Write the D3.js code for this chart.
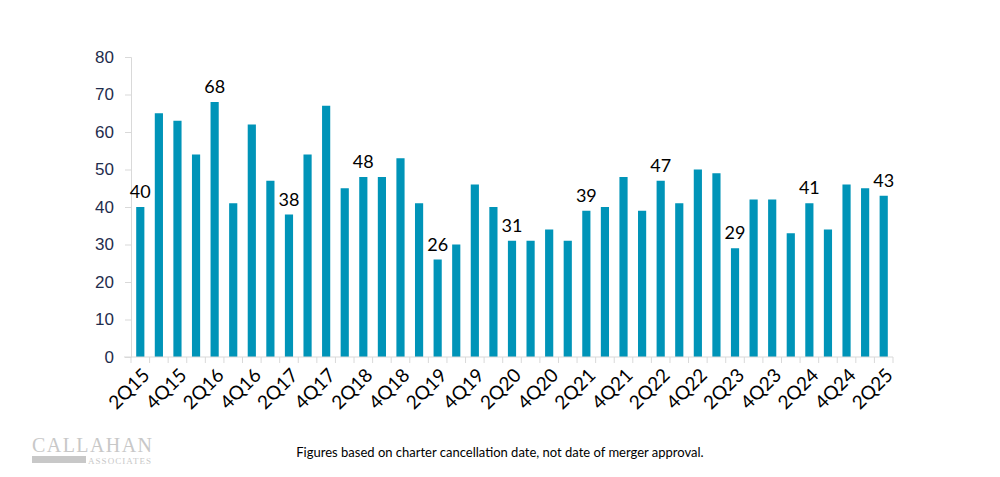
<!DOCTYPE html>
<html>
<head>
<meta charset="utf-8">
<script src="https://cdn.jsdelivr.net/npm/d3@7"></script>
<style>
  body { margin: 0; background: #fff; }
  svg { display: block; font-family: Lato, "Open Sans", sans-serif; }
</style>
</head>
<body>
<div id="chart"></div>
<script>
const quarters = [
  "2Q15","3Q15","4Q15","1Q16","2Q16","3Q16","4Q16","1Q17","2Q17","3Q17","4Q17",
  "1Q18","2Q18","3Q18","4Q18","1Q19","2Q19","3Q19","4Q19","1Q20","2Q20","3Q20",
  "4Q20","1Q21","2Q21","3Q21","4Q21","1Q22","2Q22","3Q22","4Q22","1Q23","2Q23",
  "3Q23","4Q23","1Q24","2Q24","3Q24","4Q24","1Q25","2Q25"
];
const mergers = [
  40, 65, 63, 54, 68, 41, 62, 47, 38, 54, 67,
  45, 48, 48, 53, 41, 26, 30, 46, 40, 31, 31,
  34, 31, 39, 40, 48, 39, 47, 41, 50, 49, 29,
  42, 42, 33, 41, 34, 46, 45, 43
];
const labelled = ["2Q15","2Q16","2Q17","2Q18","2Q19","2Q20","2Q21","2Q22","2Q23","2Q24","2Q25"];
const yTicks = [0, 10, 20, 30, 40, 50, 60, 70, 80];
const footnote = "Figures based on charter cancellation date, not date of merger approval.";

const width = 1000, height = 477;
const margin = { top: 57, right: 107, bottom: 120, left: 131 };
const data = quarters.map((q, i) => ({ name: q, value: mergers[i] }));

const svg = d3.select("#chart").append("svg")
  .attr("width", width)
  .attr("height", height);

const x = d3.scaleBand()
  .domain(quarters)
  .range([margin.left, width - margin.right])
  .paddingInner(0.56)
  .paddingOuter(0.28);

const y = d3.scaleLinear()
  .domain([0, 80])
  .range([height - margin.bottom, margin.top]);

// y axis
const yAxis = svg.append("g")
  .attr("transform", `translate(${margin.left},0)`)
  .call(d3.axisLeft(y).tickValues(yTicks).tickSize(6).tickPadding(11));
yAxis.select(".domain").attr("stroke", "#d9d9d9");
yAxis.selectAll(".tick line").attr("stroke", "#d9d9d9");
yAxis.selectAll(".tick text")
  .attr("fill", "#1f2d4d")
  .style("font-size", "17px");

// bars
svg.append("g").selectAll("rect")
  .data(data)
  .join("rect")
  .attr("x", d => x(d.name))
  .attr("y", d => y(d.value))
  .attr("width", x.bandwidth())
  .attr("height", d => y(0) - y(d.value))
  .attr("fill", "#0094b8");

// x axis: ticks at category boundaries
const xg = svg.append("g")
  .attr("transform", `translate(0,${y(0)})`);
const bounds = d3.range(quarters.length + 1).map(i => margin.left + i * (width - margin.left - margin.right) / quarters.length);
xg.append("line")
  .attr("x1", margin.left - 7).attr("x2", width - margin.right)
  .attr("stroke", "#d9d9d9");
xg.selectAll("line.tk")
  .data(bounds)
  .join("line")
  .attr("class", "tk")
  .attr("x1", d => d).attr("x2", d => d)
  .attr("y1", 0).attr("y2", 6)
  .attr("stroke", "#d9d9d9");
xg.selectAll("text")
  .data(quarters.filter((q, i) => i % 2 === 0))
  .join("text")
  .attr("transform", d => `translate(${x(d) + x.bandwidth() / 2 + 1},${10}) rotate(-45)`)
  .attr("text-anchor", "end")
  .attr("dy", "0.7em")
  .attr("fill", "#000")
  .style("font-size", "19px")
  .text(d => d);

// data labels
svg.append("g").selectAll("text")
  .data(data.filter(d => labelled.includes(d.name)))
  .join("text")
  .attr("x", d => x(d.name) + x.bandwidth() / 2)
  .attr("y", d => y(d.value) - 9)
  .attr("text-anchor", "middle")
  .attr("fill", "#000")
  .style("font-size", "18px")
  .text(d => d.value);

// footnote
svg.append("text")
  .attr("x", 500).attr("y", 457)
  .attr("text-anchor", "middle")
  .attr("fill", "#000")
  .style("font-size", "13px")
  .text(footnote);

// logo
const logo = svg.append("g").attr("fill", "#c8c8c8");
logo.append("text")
  .attr("x", 32).attr("y", 452)
  .style("font-family", "'Liberation Serif', serif")
  .style("font-size", "20px")
  .attr("textLength", 120)
  .text("CALLAHAN");
logo.append("rect")
  .attr("x", 32).attr("y", 456).attr("width", 54).attr("height", 7);
logo.append("text")
  .attr("x", 88).attr("y", 464)
  .style("font-family", "'Liberation Serif', serif")
  .style("font-size", "9px")
  .attr("textLength", 63)
  .text("ASSOCIATES");
</script>
</body>
</html>
